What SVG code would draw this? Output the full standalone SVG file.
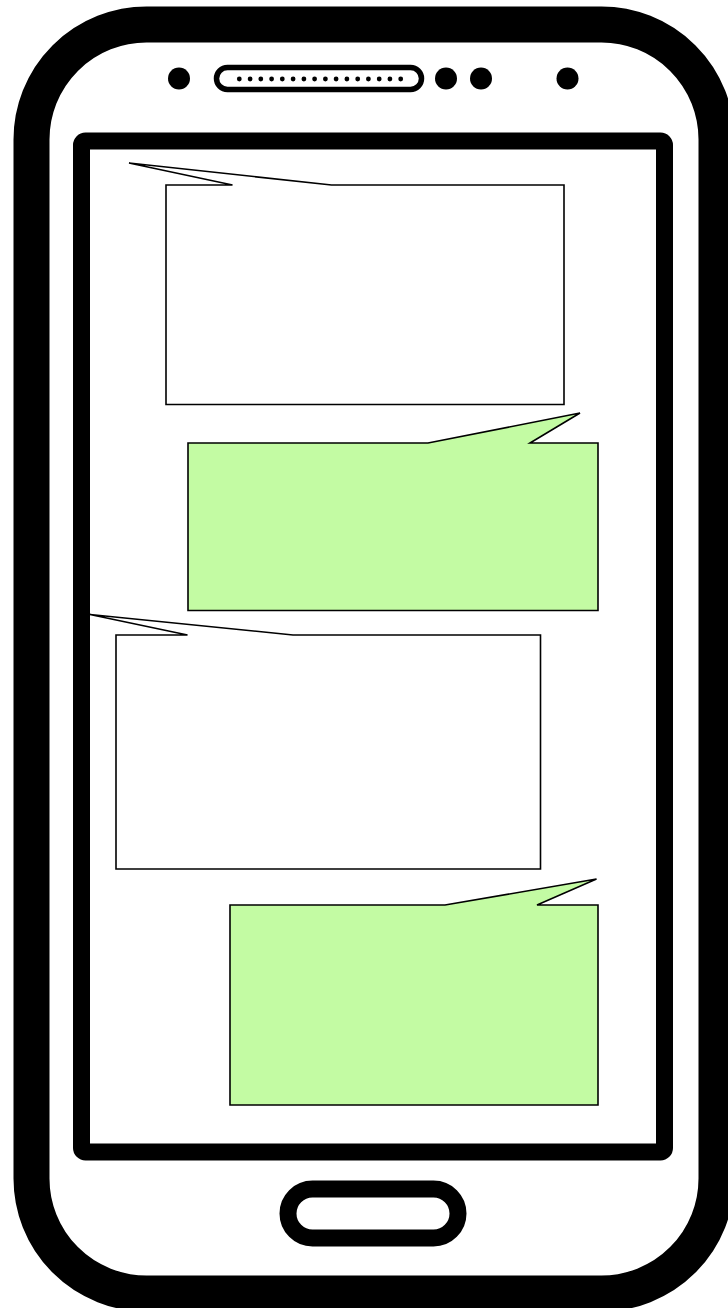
<svg xmlns="http://www.w3.org/2000/svg" width="728" height="1308" viewBox="0 0 728 1308">
  <defs>
    <style>
      .body { fill: #ffffff; stroke: #000000; stroke-width: 36; }
      .bezel { fill: #ffffff; stroke: #000000; stroke-width: 17; }
      .home { fill: #ffffff; stroke: #000000; stroke-width: 17; }
      .speaker { fill: #ffffff; stroke: #000000; stroke-width: 5.5; }
      .dot { fill: #000000; }
      .grill { fill: #000000; }
      .bubble-in { fill: #ffffff; stroke: #000000; stroke-width: 1.6; stroke-linejoin: miter; }
      .bubble-out { fill: #c3fba3; stroke: #000000; stroke-width: 1.6; stroke-linejoin: miter; }
    </style>
  </defs>
  <rect x="0" y="0" width="728" height="1308" fill="#ffffff"/>

  <g id="phone">
    <path class="body" d="M146.5,24.5 L601.5,24.5 A115,115 0 0 1 716.5,139.5 L716.5,1178.5 A115,115 0 0 1 601.5,1293.5 L146.5,1293.5 A115,115 0 0 1 31.5,1178.5 L31.5,139.5 A115,115 0 0 1 146.5,24.5 Z"/>
    <rect class="bezel" x="81.5" y="141" width="583" height="1011" rx="4" ry="4"/>
    <rect class="home" x="288" y="1189" width="170" height="49" rx="24.5" ry="24.5"/>
  </g>

  <g id="sensors">
    <circle class="dot" cx="179" cy="78.5" r="11"/>
    <rect class="speaker" x="216.5" y="67.5" width="205" height="22" rx="11" ry="11"/>
    <g class="grill">
      <circle cx="239.3" cy="79" r="2.4"/>
      <circle cx="250.1" cy="79" r="2.4"/>
      <circle cx="260.8" cy="79" r="2.4"/>
      <circle cx="271.6" cy="79" r="2.4"/>
      <circle cx="282.3" cy="79" r="2.4"/>
      <circle cx="293.1" cy="79" r="2.4"/>
      <circle cx="303.9" cy="79" r="2.4"/>
      <circle cx="314.6" cy="79" r="2.4"/>
      <circle cx="325.4" cy="79" r="2.4"/>
      <circle cx="336.1" cy="79" r="2.4"/>
      <circle cx="346.9" cy="79" r="2.4"/>
      <circle cx="357.7" cy="79" r="2.4"/>
      <circle cx="368.4" cy="79" r="2.4"/>
      <circle cx="379.2" cy="79" r="2.4"/>
      <circle cx="389.9" cy="79" r="2.4"/>
      <circle cx="400.7" cy="79" r="2.4"/>
    </g>
    <circle class="dot" cx="446" cy="78.5" r="11"/>
    <circle class="dot" cx="481" cy="78.5" r="11"/>
    <circle class="dot" cx="567.5" cy="78.5" r="11"/>
  </g>

  <g id="connectors"/>

  <g id="bubble1">
    <path class="bubble-in" d="M166,185 L232.5,185 L129,163 L331.5,185 L564,185 L564,404.5 L166,404.5 Z"/>
  </g>
  <g id="bubble2">
    <path class="bubble-out" d="M188,443 L428,443 L580,413 L530,443 L598,443 L598,610.5 L188,610.5 Z"/>
  </g>
  <g id="bubble3">
    <path class="bubble-in" d="M116,635 L187.5,635 L90,614.5 L293,635 L540.5,635 L540.5,869 L116,869 Z"/>
  </g>
  <g id="bubble4">
    <path class="bubble-out" d="M230,905 L445,905 L596.5,879 L537,905 L598,905 L598,1105 L230,1105 Z"/>
  </g>
</svg>
